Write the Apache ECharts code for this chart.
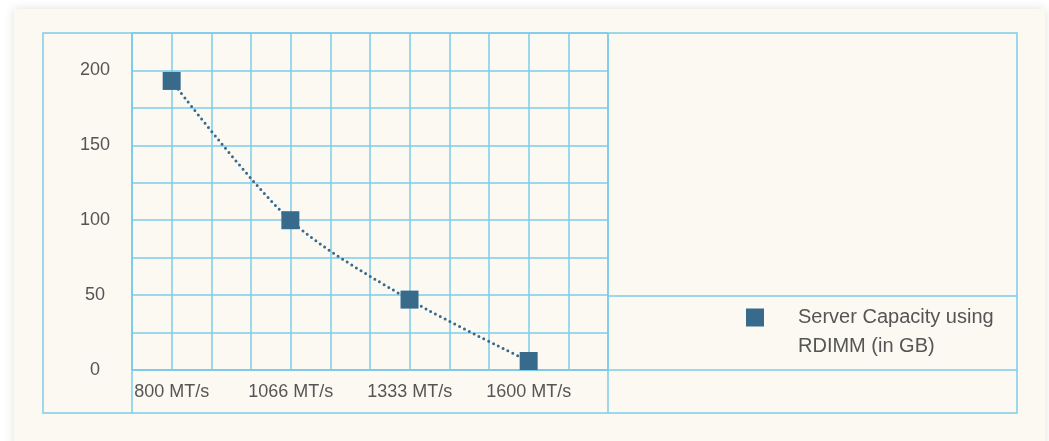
<!DOCTYPE html>
<html>
<head>
<meta charset="utf-8">
<script src="https://cdn.jsdelivr.net/npm/echarts@6/dist/echarts.min.js"></script>
<style>
    body { margin: 0; background: #ffffff; }
    #card { position: absolute; left: 14px; top: 9px; width: 1031px; height: 440px; background: #fcf9f2; box-shadow: 0 0 10px rgba(0,0,0,0.12); }
    #chart { position: absolute; left: 0; top: 0; width: 1049px; height: 441px; }
</style>
</head>
<body>
<div id="card"></div>
<div id="chart"></div>
<script>
    // data
    const xLabels = ['800 MT/s', '1066 MT/s', '1333 MT/s', '1600 MT/s']
    const xValues = [800, 1066, 1333, 1600]
    const capacity = [193, 100, 47, 6]
    const yTicks = [0, 50, 100, 150, 200]
    const seriesName = 'Server Capacity using\nRDIMM (in GB)'

    const gridColor = '#7ccbe8'
    const markColor = '#386a8c'
    const textColor = '#555555'
    const step = (1600 - 800) / 9

    const mChart = echarts.init(document.getElementById('chart'))
    const option = {
        animation: false,
        textStyle: { fontFamily: 'Liberation Sans, Arial, sans-serif' },
        grid: { left: 132, right: 441, top: 33, bottom: 71 },
        legend: {
            left: 746,
            top: 274,
            padding: 0,
            icon: 'rect',
            itemWidth: 18,
            itemHeight: 18,
            // leading blank line keeps the first text line level with the icon
            formatter: (name) => '\n' + name,
            textStyle: {
                color: textColor,
                fontSize: 20,
                lineHeight: 29,
                padding: [0, 0, 0, 29]
            },
            data: [seriesName]
        },
        // x 轴
        xAxis: {
            type: 'value',
            min: 800 - step,
            max: 800 + 11 * step,
            interval: step,
            axisLine: { lineStyle: { color: gridColor, width: 1.5 } },
            axisTick: { show: false },
            axisLabel: {
                color: textColor,
                fontSize: 18,
                margin: 13,
                formatter: (v) => {
                    const i = xValues.findIndex((x) => Math.abs(x - v) < 5)
                    return i < 0 ? '' : xLabels[i]
                }
            },
            splitLine: { lineStyle: { color: gridColor, width: 1.5 } }
        },
        // y 轴
        yAxis: {
            type: 'value',
            min: 0,
            max: 225,
            interval: 25,
            axisLine: { show: true, lineStyle: { color: gridColor, width: 1.5 } },
            axisTick: { show: false },
            axisLabel: {
                color: textColor,
                fontSize: 18,
                align: 'center',
                margin: 37,
                formatter: (v) => yTicks.includes(v) ? String(v) : ''
            },
            splitLine: { lineStyle: { color: gridColor, width: 1.5 } }
        },
        // frame around plot and legend area
        graphic: [
            { type: 'rect', shape: { x: 43, y: 33, width: 974, height: 380 }, style: { fill: 'none', stroke: gridColor, lineWidth: 1.5 } },
            { type: 'line', shape: { x1: 132, y1: 33, x2: 132, y2: 413 }, style: { stroke: gridColor, lineWidth: 1.5 } },
            { type: 'line', shape: { x1: 608, y1: 33, x2: 608, y2: 413 }, style: { stroke: gridColor, lineWidth: 1.5 } },
            { type: 'line', shape: { x1: 132, y1: 370, x2: 1017, y2: 370 }, style: { stroke: gridColor, lineWidth: 1.5 } },
            { type: 'line', shape: { x1: 608, y1: 296, x2: 1017, y2: 296 }, style: { stroke: gridColor, lineWidth: 1.5 } }
        ],
        series: [{
            name: seriesName,
            type: 'line',
            smooth: 0.3,
            symbol: 'rect',
            symbolSize: 18,
            showAllSymbol: true,
            itemStyle: { color: markColor },
            lineStyle: { color: markColor, width: 3, type: [0, 5.4], cap: 'round' },
            data: xValues.map((x, i) => [x, capacity[i]]),
            z: 3
        }]
    }
    mChart.setOption(option)
    window.addEventListener('resize', function() {
        mChart.resize()
    })
</script>
</body>
</html>
